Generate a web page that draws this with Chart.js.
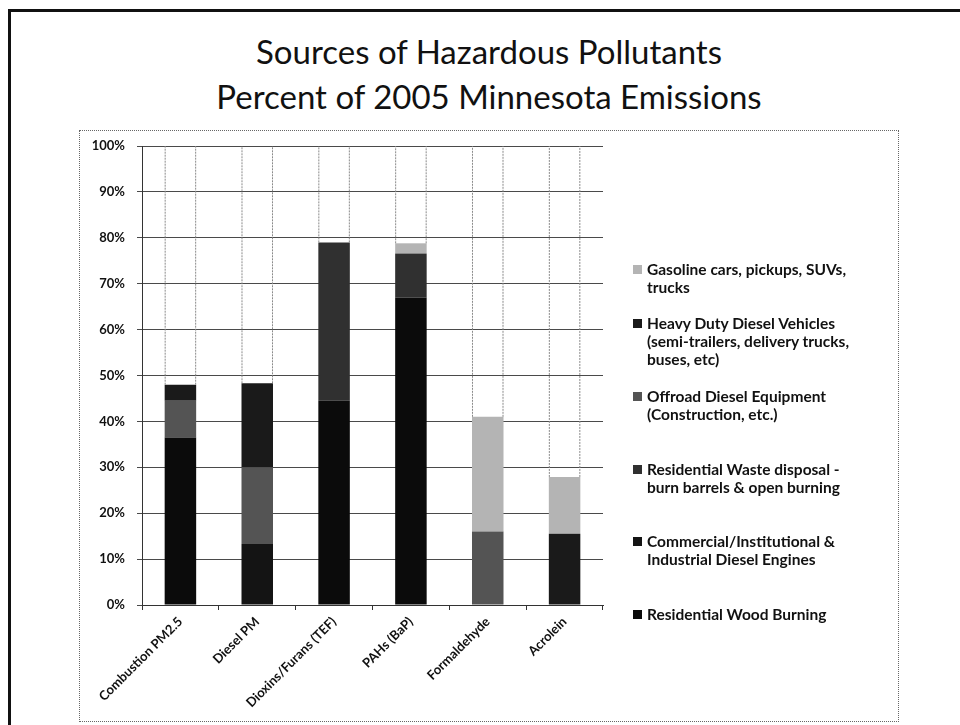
<!DOCTYPE html>
<html>
<head>
<meta charset="utf-8">
<title>Sources of Hazardous Pollutants</title>
<script src="https://cdn.jsdelivr.net/npm/chart.js@4.4.1/dist/chart.umd.min.js"></script>
<style>
    html, body {
        margin: 0;
        padding: 0;
        background: #fff;
    }
    #page {
        position: relative;
        width: 960px;
        height: 725px;
        overflow: hidden;
        background: #fff;
    }
    #frameTop {
        position: absolute;
        left: 8px;
        top: 9px;
        width: 952px;
        height: 3px;
        background: #111;
    }
    #frameLeft {
        position: absolute;
        left: 8px;
        top: 9px;
        width: 3px;
        height: 716px;
        background: #111;
    }
    #chartBox {
        position: absolute;
        left: 79px;
        top: 130px;
        width: 818px;
        height: 590px;
        border: 1px dotted #666;
    }
    #title {
        position: absolute;
        left: 79px;
        top: 29px;
        width: 820px;
        text-align: center;
        font-family: Lato, 'Open Sans', sans-serif;
        font-size: 33px;
        line-height: 45px;
        color: #111;
    }
    #chartWrap {
        position: absolute;
        left: 0;
        top: 0;
        width: 960px;
        height: 725px;
    }
    #legend {
        position: absolute;
        left: 0;
        top: 0;
    }
    .legend-item {
        position: absolute;
        left: 632px;
        width: 260px;
        font-family: Lato, 'Open Sans', sans-serif;
        font-weight: bold;
        font-size: 15.5px;
        line-height: 18px;
        color: #111;
        white-space: pre-line;
        padding-left: 15px;
    }
    .legend-swatch {
        position: absolute;
        left: 1px;
        top: 4.5px;
        width: 9px;
        height: 9px;
    }
</style>
</head>
<body>
<div id="page">
    <div id="frameTop"></div>
    <div id="frameLeft"></div>
    <div id="chartBox"></div>
    <div id="title">Sources of Hazardous Pollutants<br>Percent of 2005 Minnesota Emissions</div>
    <div id="chartWrap"><canvas id="chart" width="960" height="725"></canvas></div>
    <div id="legend"></div>
</div>
<script>
// categories along the x axis
const categories = ['Combustion PM2.5', 'Diesel PM', 'Dioxins/Furans (TEF)', 'PAHs (BaP)', 'Formaldehyde', 'Acrolein'];

// percent of emissions per source, stacked bottom to top
const woodBurning = [36.5, 0, 44.5, 67, 0, 0];
const commercialDiesel = [0, 13.3, 0, 0, 0, 0];
const wasteDisposal = [0, 0, 34.5, 9.6, 0, 0];
const offroadDiesel = [8, 16.7, 0, 0, 16, 0];
const heavyDutyDiesel = [3.5, 18.3, 0, 0, 0, 15.5];
const gasolineVehicles = [0, 0, 0, 2.2, 25, 12.4];

const seriesNames = [
    'Residential Wood Burning',
    'Commercial/Institutional &\nIndustrial Diesel Engines',
    'Residential Waste disposal -\nburn barrels & open burning',
    'Offroad Diesel Equipment\n(Construction, etc.)',
    'Heavy Duty Diesel Vehicles\n(semi-trailers, delivery trucks,\nbuses, etc)',
    'Gasoline cars, pickups, SUVs,\ntrucks'
];

// y axis ticks
const yTicks = [0, 10, 20, 30, 40, 50, 60, 70, 80, 90, 100];

const seriesColors = ['#0b0b0b', '#141414', '#303030', '#545454', '#1a1a1a', '#b4b4b4'];
// first-line centre of each legend entry, same order as seriesNames
const legendRows = [614, 541, 469, 396, 323, 269];

const seriesValues = [woodBurning, commercialDiesel, wasteDisposal, offroadDiesel, heavyDutyDiesel, gasolineVehicles];

const datasets = seriesValues.map((values, i) => ({
    label: seriesNames[i].replace(/\n/g, ' '),
    data: values,
    backgroundColor: seriesColors[i],
    borderWidth: 0,
    categoryPercentage: 1,
    barPercentage: 0.41
}));

// thin lines that run up from the top of each stack to the 100% line
const stackEdges = {
    id: 'stackEdges',
    afterDatasetsDraw(chart) {
        const ctx = chart.ctx;
        const top = chart.chartArea.top;
        ctx.save();
        ctx.strokeStyle = '#8a8a8a';
        ctx.lineWidth = 1;
        ctx.setLineDash([2, 1]);
        categories.forEach((_, idx) => {
            let best = null;
            chart.data.datasets.forEach((ds, di) => {
                const bar = chart.getDatasetMeta(di).data[idx];
                if (!bar) return;
                if (best === null || bar.y < best.y) best = bar;
            });
            if (!best) return;
            const half = best.width / 2;
            [best.x - half + 0.5, best.x + half - 0.5].forEach(x => {
                ctx.beginPath();
                ctx.moveTo(x, best.y);
                ctx.lineTo(x, top);
                ctx.stroke();
            });
        });
        ctx.restore();
    }
};

const tickFont = { family: 'Lato, "Open Sans", sans-serif', size: 13, weight: 'bold' };

const chart = new Chart(document.getElementById('chart').getContext('2d'), {
    type: 'bar',
    data: { labels: categories, datasets: datasets },
    options: {
        responsive: false,
        animation: false,
        layout: {
            padding: { left: 80, right: 357, top: 146, bottom: 0 }
        },
        plugins: {
            legend: { display: false },
            title: { display: false },
            tooltip: { enabled: false }
        },
        scales: {
            x: {
                stacked: true,
                afterFit: (scale) => { scale.height = 120; },
                border: { color: '#333', width: 1 },
                grid: {
                    offset: true,
                    drawOnChartArea: false,
                    drawTicks: true,
                    tickLength: 5,
                    color: '#333'
                },
                ticks: {
                    font: tickFont,
                    color: '#111',
                    minRotation: 45,
                    maxRotation: 45,
                    padding: 4,
                    autoSkip: false
                }
            },
            y: {
                stacked: true,
                min: 0,
                max: 100,
                afterFit: (scale) => { scale.width = 62; },
                afterBuildTicks: (scale) => {
                    scale.ticks = yTicks.map(v => ({ value: v }));
                },
                border: { color: '#333', width: 1 },
                grid: {
                    color: '#4a4a4a',
                    lineWidth: 1,
                    tickLength: 5
                },
                ticks: {
                    font: tickFont,
                    color: '#111',
                    padding: 12,
                    callback: (value) => value + '%'
                }
            }
        }
    },
    plugins: [stackEdges]
});

// legend drawn top to bottom, reverse of the stacking order
const legend = document.getElementById('legend');
for (let i = seriesNames.length - 1; i >= 0; i--) {
    const item = document.createElement('div');
    item.className = 'legend-item';
    item.style.top = (legendRows[i] - 9) + 'px';
    const swatch = document.createElement('span');
    swatch.className = 'legend-swatch';
    swatch.style.backgroundColor = seriesColors[i];
    item.appendChild(swatch);
    item.appendChild(document.createTextNode(seriesNames[i]));
    legend.appendChild(item);
}
</script>
</body>
</html>
